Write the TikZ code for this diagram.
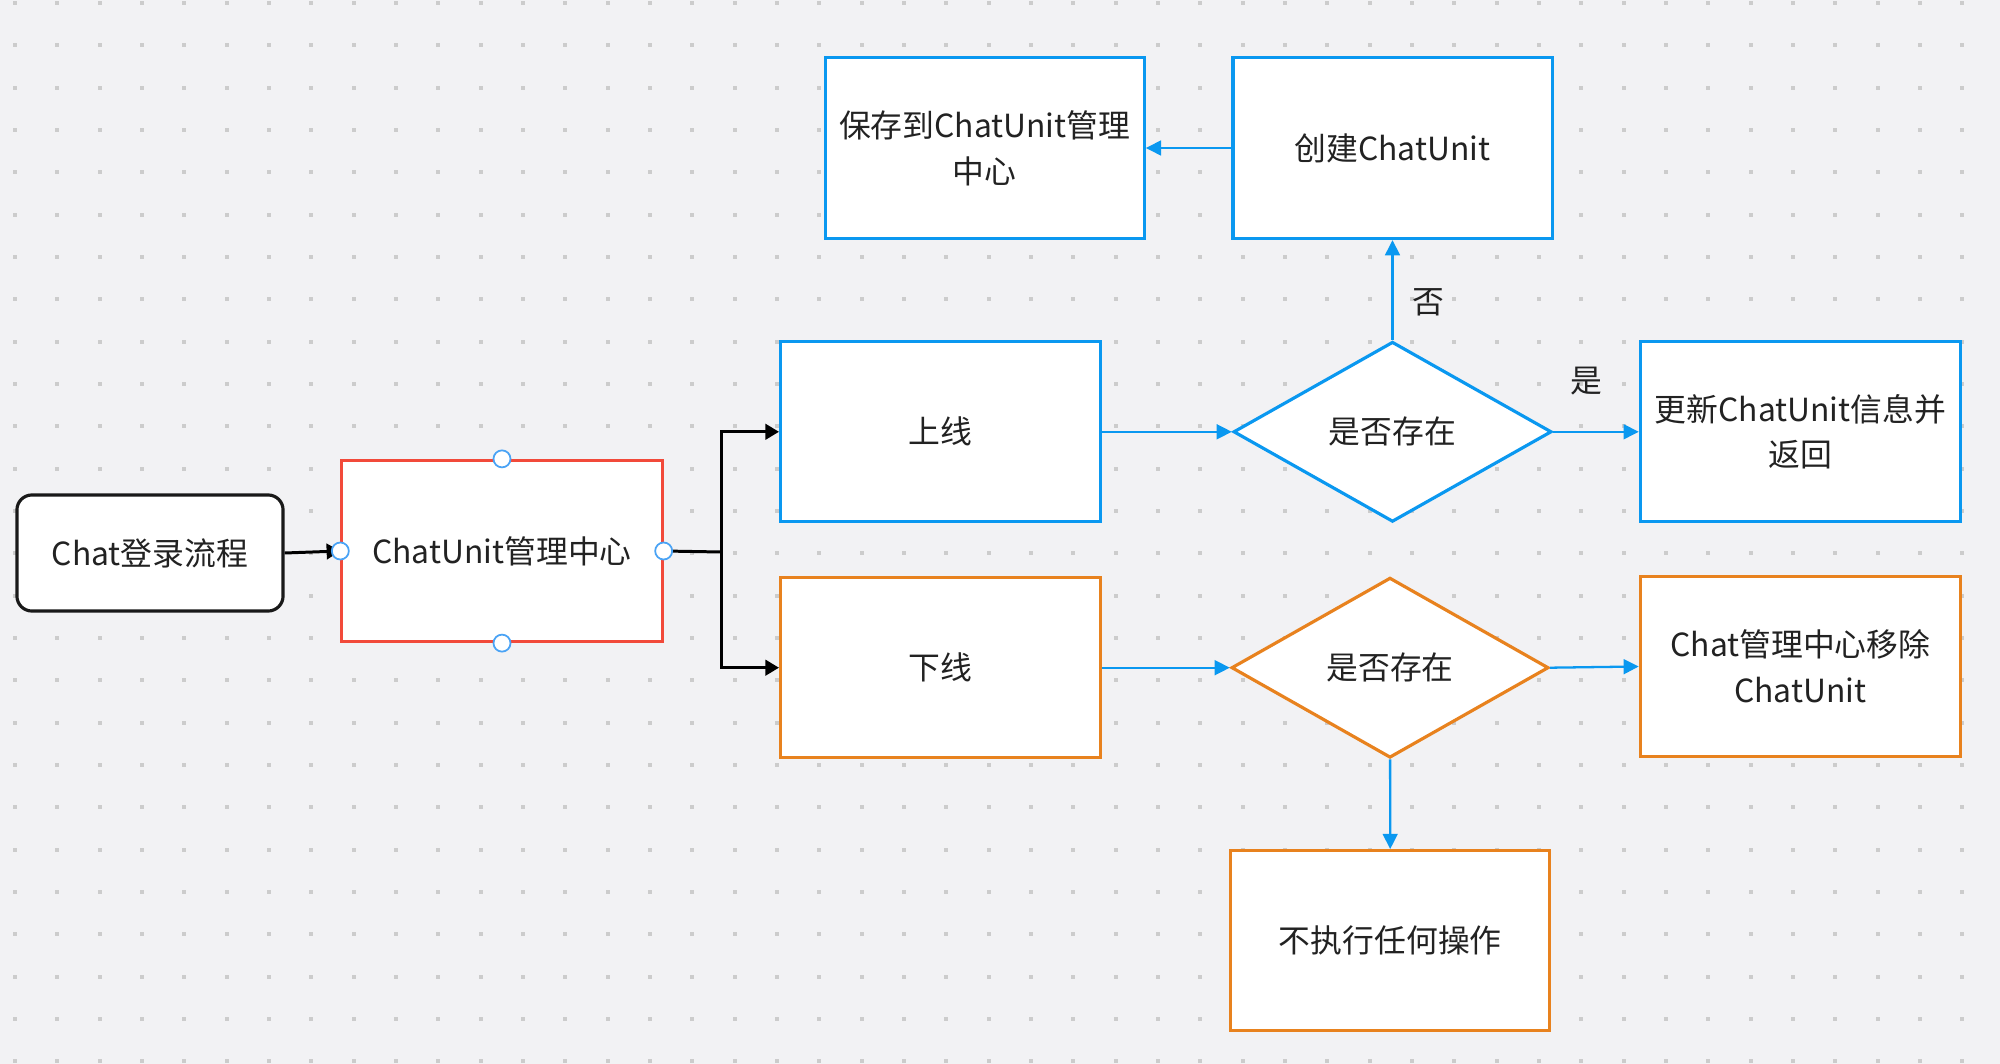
\documentclass[tikz,border=0pt]{standalone}
\usepackage{fontspec}
\setmainfont{Noto Sans CJK SC}
\usepackage{xcolor}
\usepackage{tikz}
\usetikzlibrary{positioning,arrows.meta,shapes.geometric}

\definecolor{bgGrey}{HTML}{F2F2F4}
\definecolor{dotGrey}{HTML}{CCCCCC}
\definecolor{lineBlue}{HTML}{0A98F0}
\definecolor{lineOrange}{HTML}{E8821E}
\definecolor{lineRed}{HTML}{F24A3A}
\definecolor{handleBlue}{HTML}{4AA3F5}
\definecolor{txtDark}{HTML}{222222}

\tikzset{
  box/.style={draw, fill=white, line width=0.9pt, minimum width=3.2cm,
    minimum height=1.8cm, align=center, text=txtDark, inner sep=2pt},
  bluebox/.style={box, draw=lineBlue},
  orangebox/.style={box, draw=lineOrange},
  redbox/.style={box, draw=lineRed},
  startbox/.style={box, draw=black!90, rounded corners=0.15cm,
    minimum width=2.66cm, minimum height=1.16cm},
  decision/.style={diamond, draw, fill=white, line width=0.9pt,
    minimum width=3.18cm, minimum height=1.8cm, inner sep=1pt, text=txtDark},
  bluearrow/.style={draw=lineBlue, line width=0.65pt,
    -{Triangle[length=4.3pt,width=4.2pt]}, fill=lineBlue},
  blackarrow/.style={draw=black, line width=0.85pt,
    -{Triangle[length=3.9pt,width=4.4pt]}},
  handle/.style={circle, draw=handleBlue, fill=white, line width=0.5pt,
    minimum size=0.17cm, inner sep=0pt},
  branchlabel/.style={text=txtDark}
}

\begin{document}
\begin{tikzpicture}[x=0.01cm, y=-0.01cm,
  font=\fontsize{9.05pt}{13pt}\selectfont]

% background with dot grid
\fill[bgGrey] (0,0) rectangle (2000,1064);
\useasboundingbox (0,0) rectangle (2000,1064);
\foreach \i in {0,...,46} {
  \foreach \j in {0,...,25} {
    \fill[dotGrey] ({15+42.33*\i-2},{3+42.33*\j-2}) rectangle ++(4,4);
  }
}

% nodes
\node[startbox] (login) at (150,553) {Chat登录流程};
\node[redbox, minimum height=1.81cm] (center) at (502,551) {ChatUnit管理中心};

\node[bluebox] (online) at (940.7,431.8) {上线};
\node[orangebox] (offline) at (940.7,667.7) {下线};

\node[decision, draw=lineBlue] (check_on) at (1392.5,431.8) {是否存在};
\node[decision, draw=lineOrange, minimum width=3.17cm] (check_off) at (1390,667.7) {是否存在};

\node[bluebox] (update) at (1800.4,431.8) {更新ChatUnit信息并\\返回};
\node[orangebox] (remove) at (1800.4,666.5) {Chat管理中心移除\\ChatUnit};
\node[orangebox, minimum width=3.19cm] (noop) at (1390.3,940.7) {不执行任何操作};

\node[bluebox, minimum width=3.19cm, minimum height=1.81cm] (save) at (984.7,148) {保存到ChatUnit管理\\中心};
\node[bluebox, minimum width=3.19cm, minimum height=1.81cm] (create) at (1392.5,148) {创建ChatUnit};

\coordinate (split) at (721,552);

% connectors
\draw[blackarrow] (login.east) -- (center.west);
\draw[line width=0.85pt] (center.east) -- (split);
\draw[blackarrow] (split) |- (online.west);
\draw[blackarrow] (split) |- (offline.west);

\draw[bluearrow] (online) -- (check_on);
\draw[bluearrow] (check_on) -- (update);
\draw[bluearrow] (check_on) -- (create);
\draw[bluearrow] (create) -- (save);

\draw[bluearrow] (offline) -- (check_off);
\draw[bluearrow] (check_off.east) -- (remove.west);
\draw[bluearrow] (check_off) -- (noop);

\node[branchlabel] (no_lbl) at (1428.6,302) {否};
\node[branchlabel] (yes_lbl) at (1586.7,381) {是};

% selection handles
\node[handle] (h_top) at (center.north) {};
\node[handle] (h_bottom) at (center.south) {};
\node[handle] (h_left) at (center.west) {};
\node[handle] (h_right) at (center.east) {};

\end{tikzpicture}
\end{document}
